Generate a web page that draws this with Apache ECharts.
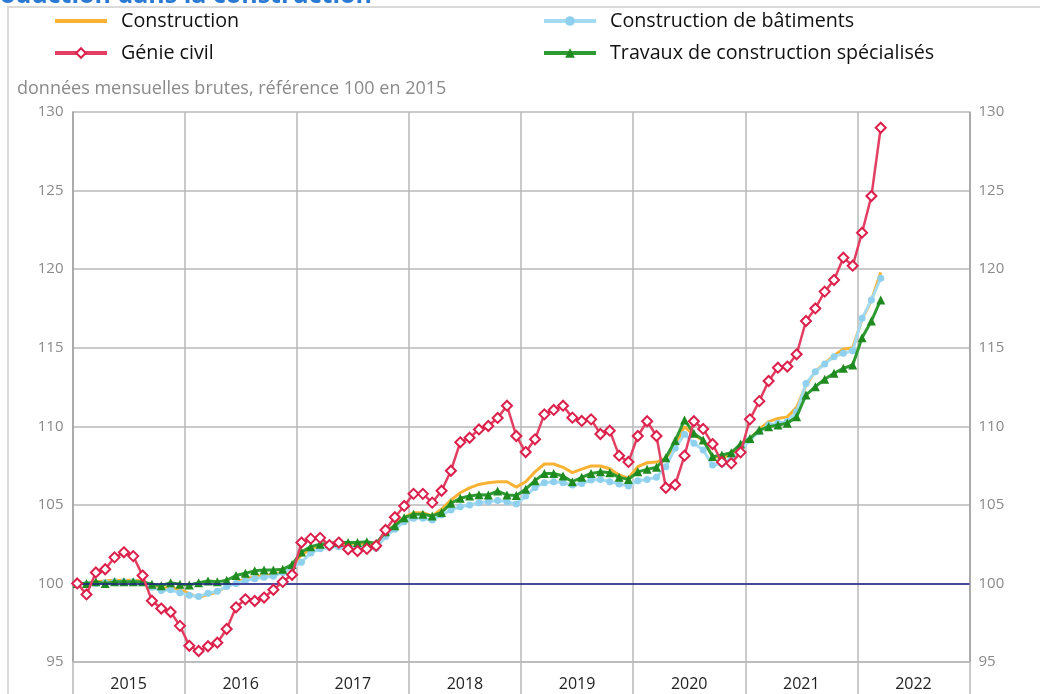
<!DOCTYPE html>
<html>
<head>
<meta charset="utf-8">
<script src="https://cdn.jsdelivr.net/npm/echarts@6/dist/echarts.min.js"></script>
<style>
html,body{margin:0;padding:0;background:#fff;}
#chart{width:1040px;height:694px;}
</style>
</head>
<body>
<div id="chart"></div>
<script>
const years = ['2015','2016','2017','2018','2019','2020','2021','2022'];
const yTicks = {min: 95, max: 130, interval: 5};

const construction = [
 100.0,100.0,100.1,100.15,100.2,100.2,100.2,100.15,99.8,99.7,99.75,99.6,
 99.35,99.1,99.3,99.45,99.8,100.05,100.3,100.4,100.5,100.55,100.75,101.1,
 101.8,102.2,102.45,102.5,102.55,102.5,102.5,102.55,102.45,103.2,103.75,104.2,
 104.5,104.5,104.3,104.72,105.3,105.77,106.08,106.3,106.41,106.47,106.47,106.13,
 106.47,107.1,107.6,107.6,107.39,107.05,107.27,107.47,107.47,107.3,106.9,106.69,
 107.43,107.68,107.72,107.96,108.81,109.98,109.45,109.1,108.1,108.0,108.2,108.7,
 109.2,109.8,110.3,110.5,110.6,111.2,112.6,113.5,114.0,114.5,114.9,115.0,
 116.8,118.0,119.8
];
const genieCivil = [
 100.0,99.3,100.7,100.9,101.66,101.98,101.74,100.5,98.9,98.4,98.18,97.3,
 96.03,95.7,96.0,96.23,97.1,98.48,98.99,98.88,99.1,99.6,100.1,100.55,
 102.6,102.85,102.9,102.44,102.6,102.17,102.06,102.2,102.4,103.4,104.21,104.93,
 105.7,105.7,105.14,105.9,107.17,108.98,109.27,109.8,110.02,110.53,111.31,109.38,
 108.36,109.17,110.76,111.04,111.31,110.55,110.34,110.44,109.51,109.72,108.13,107.73,
 109.38,110.32,109.38,106.09,106.28,108.13,110.32,109.83,108.87,107.73,107.64,108.34,
 110.44,111.6,112.88,113.73,113.8,114.58,116.7,117.5,118.57,119.31,120.73,120.22,
 122.32,124.65,129.0
];
const batiments = [
 100.0,99.95,100.0,100.05,100.1,100.1,100.1,100.05,99.75,99.55,99.6,99.4,
 99.25,99.17,99.38,99.5,99.8,100.0,100.17,100.3,100.4,100.45,100.7,101.0,
 101.34,101.94,102.2,102.3,102.34,102.34,102.34,102.34,102.24,102.98,103.45,103.93,
 104.14,104.14,104.04,104.35,104.67,104.88,104.99,105.14,105.2,105.27,105.2,105.05,
 105.56,106.11,106.41,106.47,106.41,106.26,106.36,106.58,106.62,106.47,106.33,106.2,
 106.54,106.62,106.75,107.43,108.6,109.5,108.92,108.49,107.54,107.6,107.96,108.49,
 109.13,109.66,110.08,110.2,110.3,110.93,112.73,113.47,113.96,114.43,114.64,114.81,
 116.87,118.04,119.42
];
const travaux = [
 100.0,100.0,100.1,100.0,100.1,100.1,100.1,100.1,99.95,99.85,100.05,99.95,
 99.9,100.05,100.15,100.1,100.2,100.5,100.65,100.8,100.85,100.85,100.9,101.2,
 102.0,102.34,102.5,102.55,102.6,102.6,102.6,102.66,102.55,103.29,103.67,104.18,
 104.4,104.4,104.29,104.52,105.1,105.42,105.56,105.65,105.63,105.88,105.63,105.6,
 106.0,106.54,107.0,107.0,106.84,106.47,106.75,107.0,107.1,107.05,106.75,106.62,
 107.1,107.26,107.39,108.0,109.09,110.4,109.55,109.13,108.07,108.17,108.32,108.87,
 109.23,109.76,109.97,110.08,110.19,110.61,111.99,112.52,112.99,113.37,113.69,113.9,
 115.64,116.7,118.04
];

const months = [];
years.forEach(y => { for (let m = 1; m <= 12; m++) months.push(y + '-' + m); });

const FONT = '"Open Sans", "Noto Sans", sans-serif';
const chart = echarts.init(document.getElementById('chart'), null, {renderer: 'canvas'});
const gridColor = '#b9b9b9';
const legendText = {fontSize: 19.7, color: '#111', fontFamily: FONT, lineHeight: 24, padding: [0, 0, 0, 9]};

chart.setOption({
  animation: false,
  backgroundColor: '#fff',
  textStyle: {fontFamily: FONT},
  graphic: [
    {type: 'rect', shape: {x: 8, y: 7, width: 1040, height: 700}, style: {fill: 'none', stroke: '#dadada', lineWidth: 2}, z: -1},
    {type: 'text', x: 372, y: -17, style: {text: 'Production dans la construction', align: 'right', fill: '#2a7ad3', font: 'bold 25px ' + FONT}},
    {type: 'text', left: 17, top: 80, style: {text: 'données mensuelles brutes, référence 100 en 2015', fill: '#8a8a8a', font: '18px ' + FONT}}
  ],
  legend: [
    {data: [{name: 'Construction', itemStyle: {opacity: 0}, lineStyle: {width: 4}},
            {name: 'Génie civil', lineStyle: {width: 4}}],
     left: 53, top: 9, padding: 0, orient: 'vertical', itemWidth: 52, itemHeight: 12, itemGap: 8,
     textStyle: legendText},
    {data: [{name: 'Construction de bâtiments', lineStyle: {width: 4}},
            {name: 'Travaux de construction spécialisés', lineStyle: {width: 4}}],
     left: 542, top: 9, padding: 0, orient: 'vertical', itemWidth: 52, itemHeight: 12, itemGap: 8,
     textStyle: legendText}
  ],
  grid: {left: 72.5, right: 70.5, top: 112, bottom: 32, containLabel: false},
  xAxis: [
    {type: 'category', data: years, boundaryGap: true, position: 'bottom',
     axisLine: {show: true, lineStyle: {color: gridColor, width: 1.5}},
     axisTick: {show: true, interval: 0, length: 32, lineStyle: {color: gridColor, width: 1.5}},
     splitLine: {show: true, interval: 0, lineStyle: {color: gridColor, width: 1.5}},
     axisLabel: {interval: 0, margin: 14, fontSize: 16, color: '#222', fontFamily: FONT}},
    {type: 'category', data: months, boundaryGap: true, show: false}
  ],
  yAxis: [
    {type: 'value', min: yTicks.min, max: yTicks.max, interval: yTicks.interval, position: 'left',
     axisLine: {show: true, lineStyle: {color: '#a0a0a0', width: 1.5}},
     axisTick: {show: false},
     splitLine: {show: true, lineStyle: {color: gridColor, width: 1.5}},
     axisLabel: {margin: 9, fontSize: 15, color: '#8a8a8a', fontFamily: FONT}},
    {type: 'value', min: yTicks.min, max: yTicks.max, interval: yTicks.interval, position: 'right',
     axisLine: {show: true, lineStyle: {color: '#a0a0a0', width: 1.5}},
     axisTick: {show: false},
     splitLine: {show: false},
     axisLabel: {margin: 9, fontSize: 15, color: '#8a8a8a', fontFamily: FONT}}
  ],
  series: [
    {name: 'Construction', type: 'line', xAxisIndex: 1, yAxisIndex: 0, data: construction,
     showSymbol: false, symbol: 'none', lineStyle: {color: '#f9b233', width: 3}, itemStyle: {color: '#f9b233'}, z: 2,
     markLine: {silent: true, symbol: 'none', label: {show: false}, data: [{yAxis: 100}],
       lineStyle: {color: '#1e1e8a', width: 1.5, type: 'solid'}}},
    {name: 'Construction de bâtiments', type: 'line', xAxisIndex: 1, yAxisIndex: 0, data: batiments,
     symbol: 'circle', symbolSize: 7, showAllSymbol: true, lineStyle: {color: '#a3dbf3', width: 3},
     itemStyle: {color: '#8fd0ee'}, z: 3},
    {name: 'Travaux de construction spécialisés', type: 'line', xAxisIndex: 1, yAxisIndex: 0, data: travaux,
     symbol: 'triangle', symbolSize: 9, showAllSymbol: true, lineStyle: {color: '#2e9a32', width: 3},
     itemStyle: {color: '#1f8a1f'}, z: 4},
    {name: 'Génie civil', type: 'line', xAxisIndex: 1, yAxisIndex: 0, data: genieCivil,
     symbol: 'diamond', symbolSize: 10, showAllSymbol: true, lineStyle: {color: '#e23f62', width: 2.5},
     itemStyle: {color: '#ffffff', borderColor: '#dc1f4b', borderWidth: 2}, z: 5}
  ]
});
</script>
</body>
</html>
